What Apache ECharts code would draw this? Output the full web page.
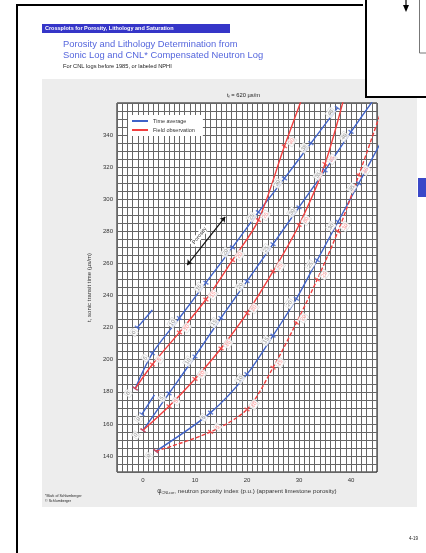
<!DOCTYPE html>
<html>
<head>
<meta charset="utf-8">
<script src="https://cdn.jsdelivr.net/npm/echarts@6/dist/echarts.min.js"></script>
<style>
  html, body { margin: 0; padding: 0; background: #fff; }
  #page { position: relative; width: 426px; height: 553px; overflow: hidden; background: #fff; }
  .blk { position: absolute; }
</style>
</head>
<body>
<div id="page">
  <!-- page decor (scanned chart-book page) -->
  <div class="blk" style="left:42px;top:79px;width:375px;height:428px;background:#ededed"></div>
  <div class="blk" style="left:117px;top:103px;width:260px;height:369px;background:#fff"></div>
  <div class="blk" style="left:16px;top:4px;width:347px;height:2px;background:#000"></div>
  <div class="blk" style="left:16px;top:4px;width:2px;height:560px;background:#000"></div>
  <div class="blk" style="left:365px;top:-4px;width:70px;height:98px;border:2px solid #000;background:#fff"></div>
  <div class="blk" style="left:418px;top:178px;width:8px;height:19px;background:#3a48c8"></div>
  <div class="blk" style="left:42px;top:24px;width:188px;height:9px;background:#3535c8"></div>
  <div id="chart" class="blk" style="left:0;top:0;width:426px;height:553px"></div>
</div>
<script>
// fluid transit time written above the chart (µs/m)
const fluidTransit = 620

// true porosity (p.u.) of the marks along each lithology curve
const porosity = [0, 5, 10, 15, 20, 25, 30, 35, 40, 45]

// sandstone: neutron reading, time-average and field-observation transit time
const sandNeutron = [-1.5, 1.8, 7, 12.1, 17.2, 22.2, 27.2, 32.3, 37.4, null]
const sandTimeAvg = [182, 204, 226, 248, 270, 292, 313, 335, 357, null]
const sandField = [182, 197, 217, 237.5, 262, 287, 333, 378, null, null]

// limestone
const limeNeutron = [0, 5, 10, 15, 20, 25, 30, 35, 40, 45]
const limeTimeAvg = [156, 179, 202, 226, 249, 272, 295, 318, 342, 365]
const limeField = [156, 171, 188, 207, 229, 255, 284, 322, 380, null]

// dolomite
const doloNeutron = [2.5, 13, 20, 25, 29.5, 33.5, 37.5, 41.5, 45.5, null]
const doloTimeAvg = [143, 167, 191, 215, 238, 262, 286, 310, 334, null]
const doloField = [143, 155, 169, 195, 223, 250, 280, 315, 352, null]

// short salt and anhydrite lines
const saltNeutron = [-1.1, 1.8]
const saltTimeAvg = [220, 231]
const anhyNeutron = [-0.2, 2.2]
const anhyTimeAvg = [166, 178]

// "Porosity" direction arrow
const arrowPts = [[8.5, 259], [15.8, 289]]

const xTicks = [0, 10, 20, 30, 40]
const yTicks = [140, 160, 180, 200, 220, 240, 260, 280, 300, 320, 340]

const BLUE = '#3f62c8'
const RED = '#f23f3f'
const PINK = '#ff7a7a'
const GREYTXT = '#777'
const FONT = '"Liberation Sans", Arial, sans-serif'

function pairs (xs, ys) {
  const out = []
  xs.forEach((x, i) => { if (x != null && ys[i] != null) out.push([x, ys[i]]) })
  return out
}

function curve (name, xs, ys, color, dashed, extra) {
  return Object.assign({
    name: name,
    type: 'line',
    data: pairs(xs, ys),
    smooth: 0.3,
    showSymbol: false,
    clip: true,
    z: 3,
    itemStyle: { color: color },
    lineStyle: { color: color, width: 1.4, type: dashed ? [4, 2] : 'solid' }
  }, extra || {})
}

// barbs + porosity numbers along a curve
function marks (xs, ys, color, txtColor, offset, skipZero) {
  const data = []
  xs.forEach((x, i) => {
    const y = ys[i]
    if (x == null || y == null) return
    const inside = x >= -5 && x <= 45 && y >= 130 && y <= 358
    const show = inside && !(skipZero && porosity[i] === 0)
    data.push({ value: [x, y], label: { show: show, formatter: String(porosity[i]) } })
  })
  return {
    type: 'scatter',
    data: data,
    clip: true,
    silent: true,
    z: 4,
    symbol: 'rect',
    symbolSize: [6, 1.4],
    symbolRotate: -35,
    itemStyle: { color: color },
    label: {
      position: 'inside',
      offset: offset,
      rotate: 55,
      fontSize: 5.5,
      fontFamily: FONT,
      color: txtColor,
      backgroundColor: '#fff',
      borderColor: '#ccc',
      borderWidth: 0.5,
      padding: [0.5, 1]
    }
  }
}

function nameLine (p1, p2, text, pos) {
  return {
    silent: true,
    symbol: 'none',
    lineStyle: { opacity: 0 },
    label: {
      show: true,
      position: pos,
      formatter: text,
      fontSize: 5.5,
      fontFamily: FONT,
      color: '#666',
      backgroundColor: '#fff',
      padding: [0.5, 2],
      distance: 2
    },
    data: [[{ coord: p1 }, { coord: p2 }]]
  }
}

const chart = echarts.init(document.getElementById('chart'))

const option = {
  animation: false,
  backgroundColor: 'transparent',
  textStyle: { fontFamily: FONT },
  grid: { left: 117, top: 103, width: 260, height: 369, show: true, backgroundColor: 'transparent', borderColor: '#111', borderWidth: 1 },
  legend: {
    data: ['Time average', 'Field observation'],
    left: 128,
    top: 115,
    orient: 'vertical',
    backgroundColor: '#fff',
    padding: [3, 8, 3, 4],
    itemGap: 3,
    itemWidth: 16,
    itemHeight: 2,
    icon: 'rect',
    selectedMode: false,
    textStyle: { fontSize: 5.5, color: '#333', fontFamily: FONT }
  },
  xAxis: {
    type: 'value',
    min: -5,
    max: 45,
    interval: 1,
    axisLine: { show: false },
    axisTick: { show: false },
    splitLine: { lineStyle: { color: '#666', width: 1 } },
    axisLabel: {
      fontSize: 6,
      color: '#333',
      margin: 5,
      formatter: v => xTicks.indexOf(v) >= 0 ? String(v) : ''
    },
    name: '{p|φ}{s|CNLcor}{n|, neutron porosity index (p.u.) (apparent limestone porosity)}',
    nameLocation: 'middle',
    nameGap: 16,
    nameTextStyle: {
      rich: {
        p: { fontSize: 6.4, color: '#333' },
        s: { fontSize: 3.8, color: '#333', padding: [3, 0, 0, 0] },
        n: { fontSize: 6.2, color: '#333' }
      }
    }
  },
  yAxis: {
    type: 'value',
    min: 130,
    max: 360,
    interval: 5,
    axisLine: { show: false },
    axisTick: { show: false },
    splitLine: { lineStyle: { color: '#666', width: 1 } },
    axisLabel: {
      fontSize: 6,
      color: '#333',
      margin: 4,
      formatter: v => yTicks.indexOf(v) >= 0 ? String(v) : ''
    },
    name: 't, sonic transit time (µs/m)',
    nameLocation: 'middle',
    nameGap: 22,
    nameTextStyle: { fontSize: 6, color: '#333' }
  },
  graphic: [
    { type: 'text', left: 45, top: 25.5, style: { text: 'Crossplots for Porosity, Lithology and Saturation', fill: '#fff', fontSize: 5.5, fontWeight: 'bold', fontFamily: FONT } },
    { type: 'text', left: 63, top: 40, style: { text: 'Porosity and Lithology Determination from', fill: '#5566dd', fontSize: 9.4, fontFamily: FONT } },
    { type: 'text', left: 63, top: 51, style: { text: 'Sonic Log and CNL* Compensated Neutron Log', fill: '#5566dd', fontSize: 9.4, fontFamily: FONT } },
    { type: 'text', left: 63, top: 63.3, style: { text: 'For CNL logs before 1985, or labeled NPHI', fill: '#222', fontSize: 5.7, fontFamily: FONT } },
    {
      type: 'text',
      left: 227,
      top: 92,
      style: {
        text: '{a|t}{b|f}{a| = ' + fluidTransit + ' µs/m}',
        fill: '#222',
        fontFamily: FONT,
        rich: { a: { fontSize: 5.8, fill: '#222' }, b: { fontSize: 3.6, fill: '#222', padding: [3, 0, 0, 0] } }
      }
    },
    { type: 'text', left: 45, top: 494, style: { text: '*Mark of Schlumberger', fill: '#222', fontSize: 3.6, fontFamily: FONT } },
    { type: 'text', left: 45, top: 498.5, style: { text: '© Schlumberger', fill: '#222', fontSize: 3.6, fontFamily: FONT } },
    { type: 'text', left: 409, top: 536, style: { text: '4-19', fill: '#222', fontSize: 4.5, fontFamily: FONT } },
    { type: 'line', shape: { x1: 406, y1: 0, x2: 406, y2: 6 }, style: { stroke: '#000', lineWidth: 1.2 } },
    { type: 'polygon', shape: { points: [[403, 5], [409, 5], [406, 12]] }, style: { fill: '#000' } },
    { type: 'rect', shape: { x: 419.5, y: -1, width: 10, height: 54 }, style: { fill: '#fff', stroke: '#777', lineWidth: 1 } }
  ],
  series: [
    curve('Time average', sandNeutron, sandTimeAvg, BLUE, false),
    curve('Field observation', sandNeutron, sandField, RED, false, {
      markLine: nameLine([sandNeutron[2], sandField[2]], [sandNeutron[4], sandField[4]], 'Quartz sandstone', 'insideMiddleBottom')
    }),
    curve('Time average', limeNeutron, limeTimeAvg, BLUE, false, {
      markLine: nameLine([limeNeutron[4], limeTimeAvg[4]], [limeNeutron[5], limeTimeAvg[5]], 'Calcite (limestone)', 'insideMiddleBottom')
    }),
    curve('Field observation', limeNeutron, limeField, RED, false),
    curve('Time average', doloNeutron, doloTimeAvg, BLUE, false, {
      markLine: nameLine([doloNeutron[3], doloTimeAvg[3]], [doloNeutron[5], doloTimeAvg[5]], 'Dolomite', 'insideMiddleTop')
    }),
    curve('Field observation', doloNeutron, doloField, RED, true),
    curve('Time average', saltNeutron, saltTimeAvg, BLUE, false, {
      markLine: nameLine([saltNeutron[0], saltTimeAvg[0]], [saltNeutron[1], saltTimeAvg[1]], 'Salt', 'insideMiddleTop')
    }),
    curve('Time average', anhyNeutron, anhyTimeAvg, BLUE, false, {
      markLine: nameLine([anhyNeutron[0], anhyTimeAvg[0]], [anhyNeutron[1], anhyTimeAvg[1]], 'Anhydrite', 'insideMiddleTop')
    }),
    marks(sandNeutron, sandTimeAvg, BLUE, GREYTXT, [-8, -3], false),
    marks(sandNeutron, sandField, RED, PINK, [8, 3], true),
    marks(limeNeutron, limeTimeAvg, BLUE, GREYTXT, [-8, -3], false),
    marks(limeNeutron, limeField, RED, PINK, [8, 3], true),
    marks(doloNeutron, doloTimeAvg, BLUE, GREYTXT, [-8, -3], false),
    marks(doloNeutron, doloField, RED, PINK, [8, 3], true),
    marks(saltNeutron.slice(0, 1), saltTimeAvg.slice(0, 1), BLUE, GREYTXT, [-6, 0], false),
    marks(anhyNeutron.slice(0, 1), anhyTimeAvg.slice(0, 1), BLUE, GREYTXT, [-6, 0], false),
    {
      type: 'line',
      data: [],
      silent: true,
      markLine: {
        silent: true,
        symbol: ['arrow', 'arrow'],
        symbolSize: 5,
        lineStyle: { color: '#111', width: 1.2, type: 'solid' },
        label: { show: true, position: 'middle', formatter: 'Porosity', fontSize: 5.5, color: '#333', backgroundColor: '#fff', padding: [0.5, 2] },
        data: [[{ coord: arrowPts[0] }, { coord: arrowPts[1] }]]
      }
    }
  ]
}

chart.setOption(option)
</script>
</body>
</html>
